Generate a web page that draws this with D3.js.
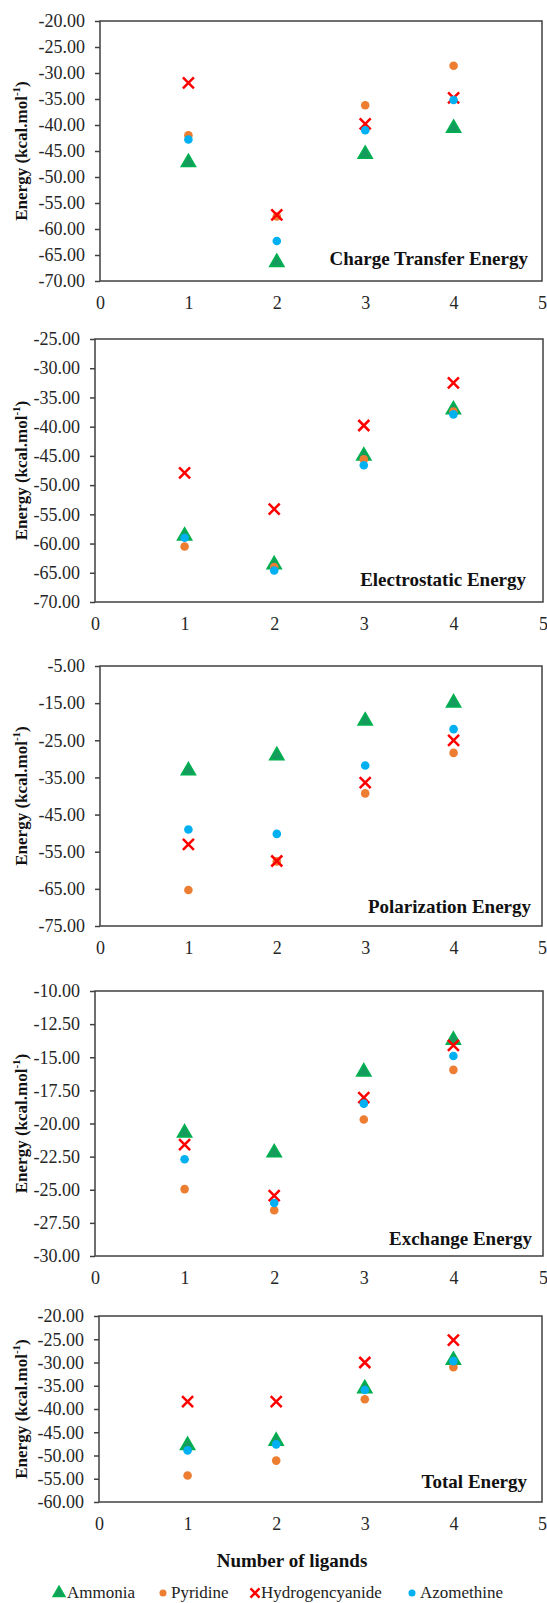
<!DOCTYPE html>
<meta charset="utf-8">
<style>
    body { margin: 0; background: #fff; }
    svg { display: block; }
    svg text { font-family: "Liberation Serif", "Times New Roman", serif; }
    .frame { fill: none; stroke: #404040; stroke-width: 1.5px; }
    .yaxis line { stroke: #404040; stroke-width: 1.5px; }
    .yaxis text, .xaxis text { fill: #262626; font-size: 18px; }
    .panel-label { font-weight: bold; font-size: 19px; fill: #111; text-anchor: end; }
    .ytitle { font-weight: bold; font-size: 17px; fill: #111; text-anchor: middle; }
</style>
<svg width="547" height="1603"></svg>
<script src="https://cdn.jsdelivr.net/npm/d3@7/dist/d3.min.js"></script>
<script>

    // ligand counts and axis ticks
    var ligands = [1, 2, 3, 4];
    var xTicks = [0, 1, 2, 3, 4, 5];
    var seriesNames = ["Ammonia", "Pyridine", "Hydrogencyanide", "Azomethine"];

    // values per series, in the order of seriesNames (kcal/mol)
    var chargeTransferEnergy = [
        [-47.2, -66.4, -45.6, -40.6],
        [-42.0, -57.6, -36.2, -28.6],
        [-31.9, -57.3, -39.8, -34.8],
        [-42.8, -62.3, -41.0, -35.2]
    ];
    var electrostaticEnergy = [
        [-58.7, -63.6, -45.0, -37.1],
        [-60.5, -64.0, -45.6, -37.4],
        [-47.9, -54.1, -39.8, -32.5],
        [-59.0, -64.6, -46.6, -37.9]
    ];
    var polarizationEnergy = [
        [-33.2, -29.1, -19.8, -14.9],
        [-65.3, -57.6, -39.3, -28.4],
        [-53.0, -57.5, -36.4, -25.0],
        [-49.0, -50.2, -31.8, -22.0]
    ];
    var exchangeEnergy = [
        [-20.7, -22.2, -16.1, -13.7],
        [-24.95, -26.55, -19.7, -15.95],
        [-21.6, -25.45, -18.05, -14.1],
        [-22.7, -26.0, -18.5, -14.9]
    ];
    var totalEnergy = [
        [-47.8, -46.9, -35.6, -29.5],
        [-54.3, -51.1, -37.9, -31.0],
        [-38.4, -38.4, -30.0, -25.2],
        [-48.9, -47.6, -35.9, -29.7]
    ];

    var chargeTransferTicks = [-70, -65, -60, -55, -50, -45, -40, -35, -30, -25, -20];
    var electrostaticTicks = [-70, -65, -60, -55, -50, -45, -40, -35, -30, -25];
    var polarizationTicks = [-75, -65, -55, -45, -35, -25, -15, -5];
    var exchangeTicks = [-30, -27.5, -25, -22.5, -20, -17.5, -15, -12.5, -10];
    var totalTicks = [-60, -55, -50, -45, -40, -35, -30, -25, -20];

    var panelTitles = ["Charge Transfer Energy", "Electrostatic Energy", "Polarization Energy", "Exchange Energy", "Total Energy"];

    // plot areas (layout only)
    var panels = [
        { data: chargeTransferEnergy, ticks: chargeTransferTicks, left: 100, right: 542, top: 21, bottom: 281, lx: 14, ly: 16 },
        { data: electrostaticEnergy, ticks: electrostaticTicks, left: 95, right: 543, top: 339, bottom: 602, lx: 17, ly: 16 },
        { data: polarizationEnergy, ticks: polarizationTicks, left: 100, right: 542, top: 666, bottom: 926, lx: 11, ly: 13 },
        { data: exchangeEnergy, ticks: exchangeTicks, left: 95, right: 543, top: 991, bottom: 1256, lx: 11, ly: 11 },
        { data: totalEnergy, ticks: totalTicks, left: 99, right: 542, top: 1316, bottom: 1502, lx: 15, ly: 14 }
    ];

    var colors = ["#00b050", "#ed7d31", "#ff0000", "#00b0f0"];

    var svg = d3.select("svg");
    // Excel style labels: plain hyphen as minus sign
    var fmt = d3.formatLocale({ decimal: ".", thousands: ",", grouping: [3], currency: ["", ""], minus: "-" }).format(".2f");

    function drawMarker(g, i, scale) {
        scale = scale || 1;
        if (i === 0) {
            g.append("path")
                .attr("d", d3.symbol().type(d3.symbolTriangle).size(82 * scale * scale)())
                .attr("fill", "#169a5e")
                .attr("stroke", colors[0])
                .attr("stroke-width", 1.8);
        } else if (i === 2) {
            var s = 5.5 * scale;
            g.append("path")
                .attr("d", "M" + -s + "," + -s + "L" + s + "," + s + "M" + -s + "," + s + "L" + s + "," + -s)
                .attr("stroke", colors[2])
                .attr("stroke-width", 2.5)
                .attr("fill", "none");
        } else {
            g.append("circle")
                .attr("r", 4.3 * scale)
                .attr("fill", colors[i]);
        }
    }

    panels.forEach(function(p, pi) {
        var x = d3.scaleLinear().domain([0, 5]).range([p.left, p.right]);
        var y = d3.scaleLinear().domain(d3.extent(p.ticks)).range([p.bottom, p.top]);

        var yAxis = svg.append("g")
            .attr("class", "yaxis")
            .attr("transform", "translate(" + p.left + ",0)")
            .call(d3.axisLeft(y).tickValues(p.ticks).tickFormat(fmt).tickSize(5).tickPadding(10));
        yAxis.select(".domain").remove();

        var xAxis = svg.append("g")
            .attr("class", "xaxis")
            .attr("transform", "translate(0," + p.bottom + ")")
            .call(d3.axisBottom(x).tickValues(xTicks).tickFormat(d3.format("d")).tickSize(0));
        xAxis.select(".domain").remove();
        xAxis.selectAll("text").attr("y", 28).attr("dy", null);

        svg.append("rect")
            .attr("class", "frame")
            .attr("x", p.left).attr("y", p.top)
            .attr("width", p.right - p.left).attr("height", p.bottom - p.top);

        p.data.forEach(function(vals, si) {
            svg.append("g").selectAll("g")
                .data(vals)
                .enter().append("g")
                .attr("transform", function(d, k) { return "translate(" + x(ligands[k]) + "," + y(d) + ")"; })
                .each(function() { drawMarker(d3.select(this), si); });
        });

        svg.append("text")
            .attr("class", "panel-label")
            .attr("x", p.right - p.lx)
            .attr("y", p.bottom - p.ly)
            .text(panelTitles[pi]);

        var t = svg.append("text")
            .attr("class", "ytitle")
            .attr("transform", "translate(27," + (p.top + p.bottom) / 2 + ") rotate(-90)");
        t.append("tspan").text("Energy (kcal.mol");
        t.append("tspan").attr("font-size", "11px").attr("dy", "-7").text("-1");
        t.append("tspan").attr("dy", "7").text(")");
    });

    svg.append("text")
        .attr("x", 292).attr("y", 1567)
        .attr("text-anchor", "middle")
        .attr("font-weight", "bold")
        .attr("font-size", "19px")
        .attr("fill", "#111")
        .text("Number of ligands");

    // legend
    var legendX = [59, 163, 255, 412];
    seriesNames.forEach(function(name, i) {
        var g = svg.append("g").attr("transform", "translate(" + legendX[i] + ",1593)");
        drawMarker(g, i, 0.82);
        svg.append("text")
            .attr("x", legendX[i] + (i === 2 ? 6 : 8))
            .attr("y", 1598)
            .attr("font-size", "17px")
            .attr("fill", "#222")
            .text(name);
    });

</script>
